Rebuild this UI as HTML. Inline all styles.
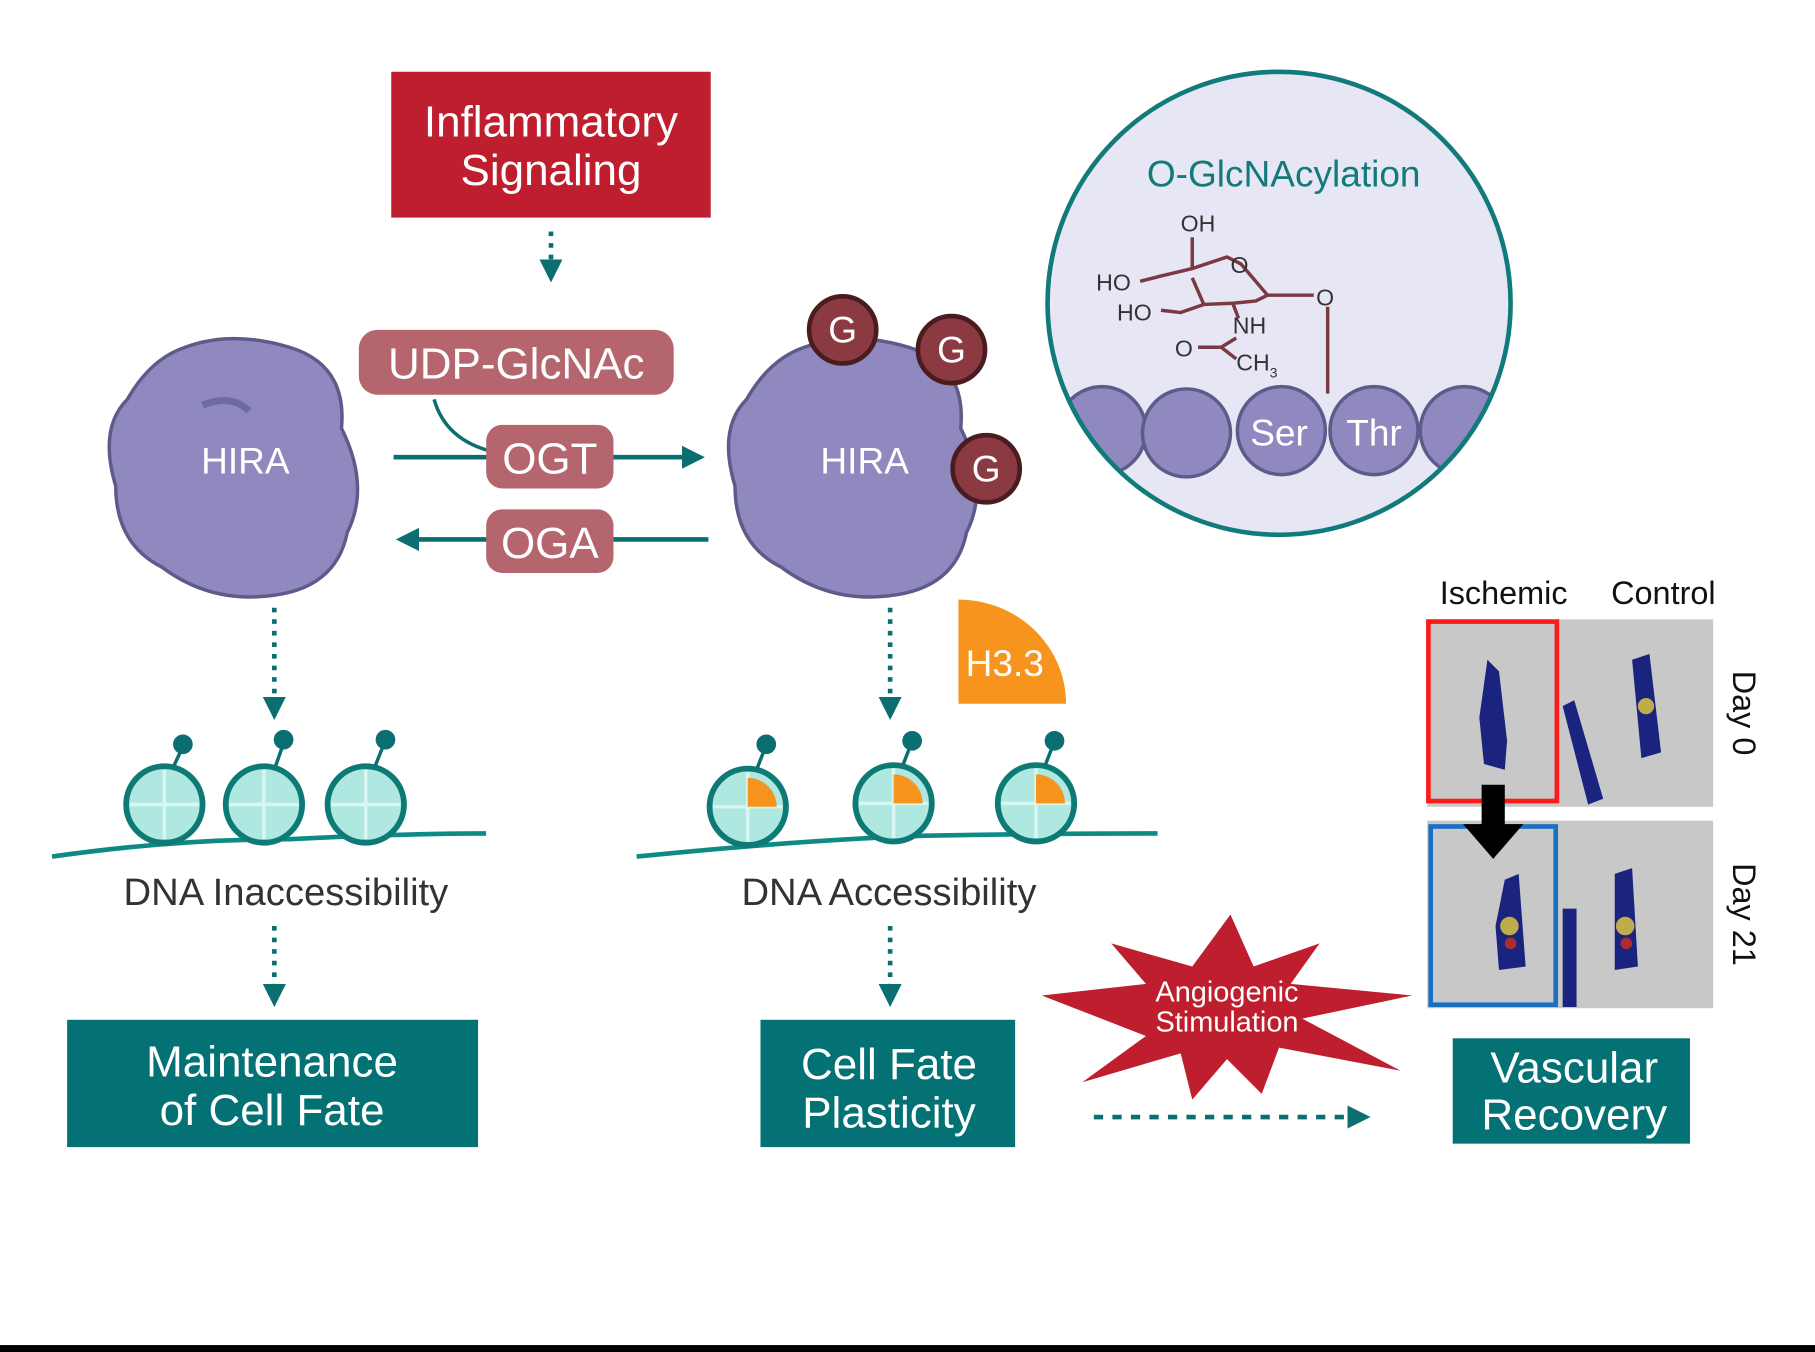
<!DOCTYPE html>
<html><head><meta charset="utf-8"><style>
html,body{margin:0;padding:0;background:#fff;}
svg{display:block;}
text{font-family:"Liberation Sans",Arial,sans-serif;}
</style></head><body>
<svg width="1815" height="1352" viewBox="0 0 1568 1168" xmlns="http://www.w3.org/2000/svg">
<defs>
<marker id="ah" viewBox="0 0 10 10" refX="8" refY="5" markerWidth="5" markerHeight="5" orient="auto"><path d="M0,0 L10,5 L0,10 z" fill="#0b6e70"/></marker>
<clipPath id="cc"><circle cx="1105" cy="262" r="200"/></clipPath>
</defs>
<rect width="1568" height="1168" fill="#fff"/>
<rect x="0" y="1162" width="1568" height="6" fill="#000"/>

<!-- Inflammatory -->
<rect x="338" y="62" width="276" height="126" fill="#be1e2d"/>
<text x="476" y="118" font-size="38" fill="#fff" text-anchor="middle">Inflammatory</text>
<text x="476" y="160" font-size="38" fill="#fff" text-anchor="middle">Signaling</text>
<line x1="476" y1="200" x2="476" y2="240" stroke="#0b6e70" stroke-width="4" stroke-dasharray="4,6" marker-end="url(#ah)"/>

<!-- pills -->
<path d="M375,345 Q385,380 425,390" fill="none" stroke="#0b6e70" stroke-width="3"/>
<line x1="340" y1="395" x2="605" y2="395" stroke="#0b6e70" stroke-width="4" marker-end="url(#ah)"/>
<line x1="612" y1="466" x2="346" y2="466" stroke="#0b6e70" stroke-width="4" marker-end="url(#ah)"/>
<rect x="310" y="285" width="272" height="56" rx="16" fill="#b5656e"/>
<text x="446" y="327" font-size="38" fill="#fff" text-anchor="middle">UDP-GlcNAc</text>
<rect x="420" y="367" width="110" height="55" rx="14" fill="#b5656e"/>
<text x="475" y="409" font-size="38" fill="#fff" text-anchor="middle">OGT</text>
<rect x="420" y="440" width="110" height="55" rx="14" fill="#b5656e"/>
<text x="475" y="482" font-size="38" fill="#fff" text-anchor="middle">OGA</text>

<!-- HIRA blobs -->
<g id="hl">
<path d="M160,300 Q200,285 250,300 Q300,315 295,370 Q320,420 300,460 Q290,510 230,515 Q180,520 140,490 Q100,470 100,420 Q85,370 110,345 Q130,310 160,300 z" fill="#8f89c0" stroke="#5e5a8a" stroke-width="3"/>
<path d="M175,350 Q200,340 215,355" fill="none" stroke="#6f6aa5" stroke-width="6"/>
<text x="212" y="409" font-size="32" fill="#fff" text-anchor="middle">HIRA</text>
</g>
<path d="M695,300 Q735,285 785,300 Q835,315 830,370 Q855,420 835,460 Q825,510 765,515 Q715,520 675,490 Q635,470 635,420 Q620,370 645,345 Q665,310 695,300 z" fill="#8f89c0" stroke="#5e5a8a" stroke-width="3"/>
<text x="747" y="409" font-size="32" fill="#fff" text-anchor="middle">HIRA</text>
<g fill="#8a3a40" stroke="#4a1c20" stroke-width="4">
<circle cx="728" cy="285" r="29"/><circle cx="822" cy="302" r="29"/><circle cx="852" cy="405" r="29"/>
</g>
<g font-size="32" fill="#fff" text-anchor="middle">
<text x="728" y="296">G</text><text x="822" y="313">G</text><text x="852" y="416">G</text>
</g>

<!-- H3.3 -->
<path d="M828,518 L828,608 L921,608 A93,90 0 0 0 828,518 z" fill="#f7941d"/>
<text x="868" y="584" font-size="32" fill="#fff" text-anchor="middle">H3.3</text>

<!-- dotted down arrows -->
<g stroke="#0b6e70" stroke-width="4" stroke-dasharray="4,6" marker-end="url(#ah)">
<line x1="237" y1="525" x2="237" y2="618"/>
<line x1="769" y1="525" x2="769" y2="618"/>
<line x1="237" y1="800" x2="237" y2="866"/>
<line x1="769" y1="800" x2="769" y2="866"/>
</g>

<!-- DNA left -->
<path d="M45,740 Q150,725 250,725 Q350,720 420,720" fill="none" stroke="#0e8a85" stroke-width="4"/>
<path d="M550,740 Q700,725 800,722 Q900,720 1000,720" fill="none" stroke="#0e8a85" stroke-width="4"/>
<g stroke="#0e7a75" stroke-width="5" fill="#aee8e0">
<circle cx="142" cy="695" r="33"/><circle cx="228" cy="695" r="33"/><circle cx="316" cy="695" r="33"/>
<circle cx="646" cy="697" r="33"/><circle cx="772" cy="694" r="33"/><circle cx="895" cy="694" r="33"/>
</g>
<g stroke="#d8f6f2" stroke-width="3">
<path d="M142,665 V725 M112,695 H172"/><path d="M228,665 V725 M198,695 H258"/><path d="M316,665 V725 M286,695 H346"/>
<path d="M646,667 V727 M616,697 H676"/><path d="M772,664 V724 M742,694 H802"/><path d="M895,664 V724 M865,694 H925"/>
</g>
<g fill="#f7941d"><path d="M646,697 V672 A25,25 0 0 1 671,697 z"/><path d="M772,694 V669 A25,25 0 0 1 797,694 z"/><path d="M895,694 V669 A25,25 0 0 1 920,694 z"/></g>
<g stroke="#0b6e70" stroke-width="3" fill="#0b6e70">
<line x1="150" y1="662" x2="158" y2="645"/><circle cx="158" cy="643" r="7"/>
<line x1="238" y1="662" x2="245" y2="642"/><circle cx="245" cy="639" r="7"/>
<line x1="324" y1="662" x2="332" y2="642"/><circle cx="333" cy="639" r="7"/>
<line x1="654" y1="664" x2="661" y2="646"/><circle cx="662" cy="643" r="7"/>
<line x1="780" y1="661" x2="787" y2="643"/><circle cx="788" cy="640" r="7"/>
<line x1="903" y1="661" x2="910" y2="643"/><circle cx="911" cy="640" r="7"/>
</g>
<text x="247" y="782" font-size="33" fill="#333" text-anchor="middle">DNA Inaccessibility</text>
<text x="768" y="782" font-size="33" fill="#333" text-anchor="middle">DNA Accessibility</text>

<!-- teal boxes -->
<rect x="58" y="881" width="355" height="110" fill="#047275"/>
<text x="235" y="930" font-size="38" fill="#fff" text-anchor="middle">Maintenance</text>
<text x="235" y="972" font-size="38" fill="#fff" text-anchor="middle">of Cell Fate</text>
<rect x="657" y="881" width="220" height="110" fill="#047275"/>
<text x="768" y="932" font-size="38" fill="#fff" text-anchor="middle">Cell Fate</text>
<text x="768" y="974" font-size="38" fill="#fff" text-anchor="middle">Plasticity</text>
<rect x="1255" y="897" width="205" height="91" fill="#047275"/>
<text x="1360" y="935" font-size="38" fill="#fff" text-anchor="middle">Vascular</text>
<text x="1360" y="976" font-size="38" fill="#fff" text-anchor="middle">Recovery</text>

<!-- starburst -->
<path d="M1063,790 L1083,835 L1140,815 L1115,850 L1220,860 L1125,880 L1210,925 L1105,905 L1090,945 L1060,915 L1030,950 L1020,910 L935,935 L990,895 L900,860 L990,850 L960,815 L1030,835 z" fill="#be1e2d"/>
<text x="1060" y="865" font-size="25" fill="#fff" text-anchor="middle">Angiogenic</text>
<text x="1060" y="891" font-size="25" fill="#fff" text-anchor="middle">Stimulation</text>
<line x1="945" y1="965" x2="1180" y2="965" stroke="#0b6e70" stroke-width="4" stroke-dasharray="8,8" marker-end="url(#ah)"/>

<!-- O-GlcNAcylation circle -->
<circle cx="1105" cy="262" r="200" fill="#e6e6f5"/>
<g clip-path="url(#cc)" fill="#8f89c0" stroke="#5e5a8a" stroke-width="3">
<circle cx="952" cy="372" r="38"/><circle cx="1025" cy="374" r="38"/><circle cx="1107" cy="372" r="38"/><circle cx="1187" cy="372" r="38"/><circle cx="1265" cy="372" r="38"/>
</g>
<circle cx="1105" cy="262" r="200" fill="none" stroke="#127a7a" stroke-width="4"/>
<text x="1109" y="161" font-size="32" fill="#127a7a" text-anchor="middle">O-GlcNAcylation</text>
<text x="1105" y="385" font-size="32" fill="#fff" text-anchor="middle">Ser</text>
<text x="1187" y="385" font-size="32" fill="#fff" text-anchor="middle">Thr</text>
<g stroke="#7a3a42" stroke-width="3" fill="none">
<path d="M985,243 L1005,238 L1030,232 L1060,222 L1072,228 L1095,255 L1085,260 L1065,262 L1040,263 L1020,270 L1003,268"/>
<path d="M1030,232 L1030,205"/><path d="M1040,263 L1030,240"/>
<path d="M1095,255 L1135,255"/><path d="M1147,265 L1147,340"/>
<path d="M1065,262 L1070,275"/><path d="M1068,292 L1055,300 L1035,300 M1055,300 L1068,310"/>
</g>
<g font-size="20" fill="#333">
<text x="1020" y="200">OH</text><text x="1063" y="236">O</text><text x="947" y="251">HO</text><text x="965" y="277">HO</text>
<text x="1137" y="264">O</text><text x="1065" y="288">NH</text><text x="1015" y="308">O</text><text x="1068" y="320">CH</text><text x="1097" y="326" font-size="12">3</text>
</g>

<!-- panels -->
<text x="1299" y="522" font-size="28" fill="#111" text-anchor="middle">Ischemic</text>
<text x="1437" y="522" font-size="28" fill="#111" text-anchor="middle">Control</text>
<rect x="1233" y="535" width="247" height="162" fill="#c8c8c8"/>
<rect x="1233" y="709" width="247" height="162" fill="#c8c8c8"/>
<g fill="#1a237e">
<path d="M1285,570 L1295,580 L1302,640 L1300,665 L1282,660 L1278,620 z"/>
<path d="M1350,610 L1360,605 L1385,690 L1372,695 z"/>
<path d="M1410,570 L1425,565 L1435,650 L1418,655 z"/>
<path d="M1300,760 L1312,755 L1318,835 L1295,838 L1292,800 z"/>
<path d="M1350,785 L1362,785 L1362,870 L1350,870 z"/>
<path d="M1395,755 L1410,750 L1415,835 L1395,838 z"/>
</g>
<g fill="#e8d040" opacity="0.8"><circle cx="1422" cy="610" r="7"/><circle cx="1304" cy="800" r="8"/><circle cx="1404" cy="800" r="8"/></g>
<g fill="#d03020" opacity="0.8"><circle cx="1305" cy="815" r="5"/><circle cx="1405" cy="815" r="5"/></g>
<rect x="1234" y="537" width="111" height="155" fill="none" stroke="#ff1a1a" stroke-width="4"/>
<rect x="1236" y="714" width="108" height="154" fill="none" stroke="#1b6fc2" stroke-width="4"/>
<path d="M1280,678 H1300 V712 H1316 L1290,742 L1264,712 H1280 z" fill="#000"/>
<text transform="translate(1497,616) rotate(90)" font-size="28" fill="#111" text-anchor="middle">Day 0</text>
<text transform="translate(1497,790) rotate(90)" font-size="28" fill="#111" text-anchor="middle">Day 21</text>
</svg>
</body></html>
